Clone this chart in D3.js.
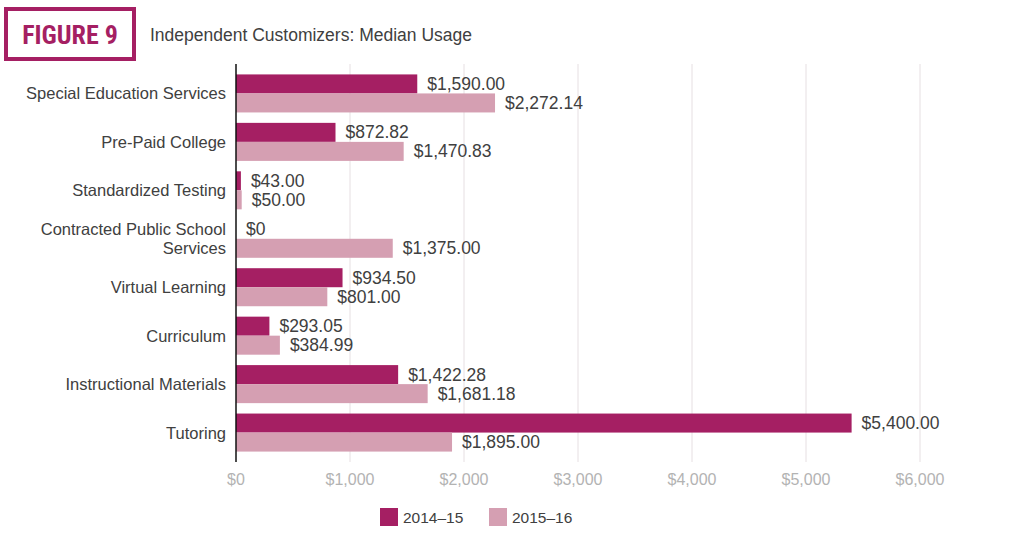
<!DOCTYPE html>
<html>
<head>
<meta charset="utf-8">
<script src="https://cdn.jsdelivr.net/npm/d3@7"></script>
<style>
  body { margin: 0; background: #fff; }
  svg text { font-family: "Liberation Sans", Arial, sans-serif; }
</style>
</head>
<body>
<div class="chart"></div>
<script>
var categories = ["Special Education Services", "Pre-Paid College", "Standardized Testing",
  "Contracted Public School Services", "Virtual Learning", "Curriculum",
  "Instructional Materials", "Tutoring"];
var series = ["2014\u201315", "2015\u201316"];
var values1415 = [1590.00, 872.82, 43.00, 0, 934.50, 293.05, 1422.28, 5400.00];
var values1516 = [2272.14, 1470.83, 50.00, 1375.00, 801.00, 384.99, 1681.18, 1895.00];
var xTicks = [0, 1000, 2000, 3000, 4000, 5000, 6000];

var colors = ["#a51f63", "#d59fb2"];

var width = 1024, height = 544;
var margin = {left: 236, right: 104, top: 64, bottom: 82};

var svg = d3.select(".chart").append("svg")
  .attr("width", width).attr("height", height);

// title box
svg.append("rect")
  .attr("x", 6).attr("y", 9).attr("width", 128).attr("height", 50)
  .attr("fill", "none").attr("stroke", "#a51f63").attr("stroke-width", 4);
svg.append("text")
  .attr("x", 70).attr("y", 44)
  .attr("text-anchor", "middle")
  .style("font-family", "'Liberation Sans Narrow', 'Roboto Condensed', sans-serif")
  .style("font-weight", "bold")
  .style("font-size", "26px")
  .attr("fill", "#a51f63")
  .text("FIGURE 9");
svg.append("text")
  .attr("x", 150).attr("y", 41)
  .style("font-size", "17.5px")
  .attr("fill", "#404040")
  .text("Independent Customizers: Median Usage");

var x = d3.scaleLinear().domain([0, 6000]).range([margin.left, width - margin.right]);

var y = d3.scaleBand().domain(categories)
  .range([margin.top, height - margin.bottom]).padding(0.215);

var sub = d3.scaleBand().domain(series).range([0, y.bandwidth()]);

// gridlines
svg.append("g")
  .selectAll("line")
  .data(xTicks.slice(1))
  .enter().append("line")
  .attr("x1", function(d) { return x(d); })
  .attr("x2", function(d) { return x(d); })
  .attr("y1", margin.top).attr("y2", height - margin.bottom)
  .attr("stroke", "#e6dfe2").attr("stroke-width", 1);

// x tick labels
svg.append("g")
  .selectAll("text")
  .data(xTicks)
  .enter().append("text")
  .attr("x", function(d) { return x(d); })
  .attr("y", height - margin.bottom + 23)
  .attr("text-anchor", "middle")
  .style("font-size", "16px")
  .attr("fill", "#b3b3b3")
  .text(function(d) { return "$" + d3.format(",")(d); });

var rows = categories.map(function(c, i) {
  return {cat: c, vals: [values1415[i], values1516[i]]};
});

var groups = svg.append("g").selectAll("g")
  .data(rows)
  .enter().append("g")
  .attr("transform", function(d) { return "translate(0," + y(d.cat) + ")"; });

groups.selectAll("rect")
  .data(function(d) { return d.vals.map(function(v, j) { return {s: series[j], v: v, j: j}; }); })
  .enter().append("rect")
  .attr("x", x(0))
  .attr("y", function(d) { return sub(d.s); })
  .attr("width", function(d) { return x(d.v) - x(0); })
  .attr("height", sub.bandwidth())
  .attr("fill", function(d) { return colors[d.j]; });

var money = d3.format("$,.2f");
groups.selectAll("text.val")
  .data(function(d) { return d.vals.map(function(v, j) { return {s: series[j], v: v, j: j}; }); })
  .enter().append("text")
  .attr("class", "val")
  .attr("x", function(d) { return x(d.v) + 10; })
  .attr("y", function(d) { return sub(d.s) + sub.bandwidth() / 2 + 6; })
  .style("font-size", "17.5px")
  .attr("fill", "#404040")
  .text(function(d) { return d.v === 0 ? "$0" : money(d.v); });

// category labels
groups.each(function(d) {
  var g = d3.select(this);
  var t = g.append("text")
    .attr("text-anchor", "end")
    .attr("x", margin.left - 10)
    .style("font-size", "16.5px")
    .attr("fill", "#404040");
  if (d.cat === "Contracted Public School Services") {
    t.append("tspan").attr("x", margin.left - 10).attr("y", y.bandwidth() / 2 - 4).text("Contracted Public School");
    t.append("tspan").attr("x", margin.left - 10).attr("y", y.bandwidth() / 2 + 15).text("Services");
  } else {
    t.attr("y", y.bandwidth() / 2 + 6).text(d.cat);
  }
});

// axis line
svg.append("line")
  .attr("x1", x(0)).attr("x2", x(0))
  .attr("y1", margin.top).attr("y2", height - margin.bottom)
  .attr("stroke", "#111").attr("stroke-width", 1.5);

// legend
var legend = svg.append("g").attr("transform", "translate(380,508)");
var li = legend.selectAll("g").data(series).enter().append("g")
  .attr("transform", function(d, i) { return "translate(" + (i * 109) + ",0)"; });
li.append("rect").attr("width", 18).attr("height", 18)
  .attr("fill", function(d, i) { return colors[i]; });
li.append("text").attr("x", 23).attr("y", 15)
  .style("font-size", "15.5px").attr("fill", "#404040")
  .text(function(d) { return d; });
</script>
</body>
</html>
